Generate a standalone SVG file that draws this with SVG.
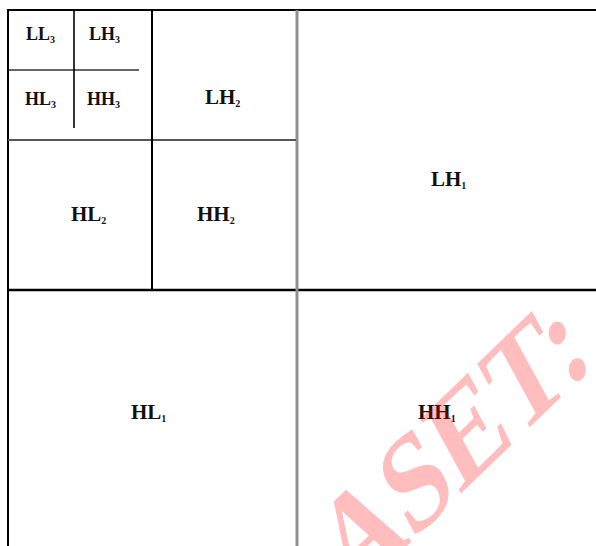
<svg xmlns="http://www.w3.org/2000/svg" width="596" height="546" viewBox="0 0 596 546">
<style>
.lbl{font-family:"Liberation Serif","Times New Roman",serif;font-weight:bold;fill:#111;}
.l3{font-size:18px;}
.l2{font-size:21px;}
.sub{font-size:10px;}
.blk{stroke:#000;fill:none;}
.gry{stroke:#8f8f8f;fill:none;}
.wm{font-family:"Liberation Serif","Times New Roman",serif;font-weight:bold;font-size:106px;fill:#ff0000;fill-opacity:0.26;}
</style>
<rect width="596" height="546" fill="#fff"/>
<g id="connectors">
<line class="blk" x1="7" y1="10" x2="596" y2="10" stroke-width="2"/>
<line class="blk" x1="8" y1="9" x2="8" y2="546" stroke-width="2"/>
<line class="blk" x1="8" y1="290" x2="596" y2="290" stroke-width="2.5"/>
<line class="gry" x1="297" y1="10" x2="297" y2="546" stroke-width="3"/>
<line x1="8" y1="140" x2="296" y2="140" stroke="#555" stroke-width="2"/>
<line class="blk" x1="152" y1="10" x2="152" y2="290" stroke-width="2"/>
<line x1="9" y1="70" x2="139" y2="70" stroke="#666" stroke-width="2"/>
<line class="blk" x1="74" y1="10" x2="74" y2="128" stroke-width="1.6"/>
</g>
<g id="LL3"><text class="lbl l3" x="26" y="40">LL<tspan class="sub" dy="3">3</tspan></text></g>
<g id="LH3"><text class="lbl l3" x="89" y="40">LH<tspan class="sub" dy="3">3</tspan></text></g>
<g id="HL3"><text class="lbl l3" x="25" y="105">HL<tspan class="sub" dy="3">3</tspan></text></g>
<g id="HH3"><text class="lbl l3" x="87" y="105">HH<tspan class="sub" dy="3">3</tspan></text></g>
<g id="LH2"><text class="lbl l2" x="205" y="104">LH<tspan class="sub" dy="3">2</tspan></text></g>
<g id="HL2"><text class="lbl l2" x="71" y="221">HL<tspan class="sub" dy="3">2</tspan></text></g>
<g id="HH2"><text class="lbl l2" x="197" y="221">HH<tspan class="sub" dy="3">2</tspan></text></g>
<g id="LH1"><text class="lbl l2" x="431" y="186">LH<tspan class="sub" dy="3">1</tspan></text></g>
<g id="HL1"><text class="lbl l2" x="131" y="419">HL<tspan class="sub" dy="3">1</tspan></text></g>
<g id="HH1"><text class="lbl l2" x="418" y="419">HH<tspan class="sub" dy="3">1</tspan></text></g>
<text class="wm" transform="matrix(0.809 -0.782 0.588 1.076 350 601)" x="0" y="0">ASET:</text>
</svg>
